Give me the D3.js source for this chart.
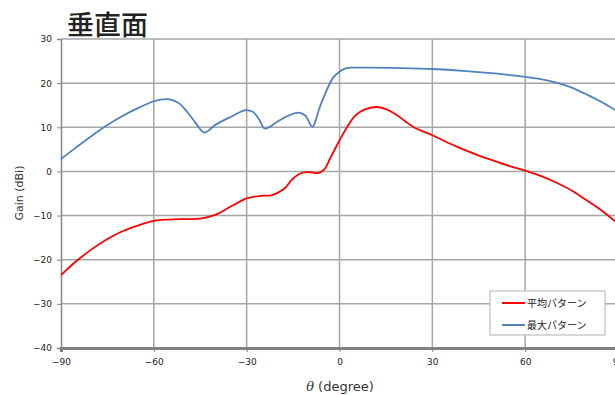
<!DOCTYPE html>
<html lang="ja">
<head>
    <meta charset="utf-8">
    <style type="text/css">
        body { margin: 0; background: #fff; }
        .tick text { font-family: "DejaVu Sans", Verdana, sans-serif; font-size: 9px; fill: #222; }
    </style>
</head>
<body>
    <svg width="615" height="395"></svg>
    <script src="https://d3js.org/d3.v7.min.js"></script>
    <script type="text/javascript">
        // 平均パターン (red)
        var avgTheta = [-90, -85, -80, -75, -70, -65, -60, -55, -50, -45, -40, -35, -30, -25, -22, -18, -15, -12, -9, -7, -5, -3, 0, 2, 5, 8, 12, 15, 18, 21, 24, 30, 35, 40, 45, 50, 55, 60, 65, 70, 75, 80, 85, 90];
        var avgGain = [-23.5, -20.3, -17.6, -15.3, -13.5, -12.2, -11.2, -10.9, -10.8, -10.7, -9.8, -7.9, -6.1, -5.5, -5.4, -4.0, -1.6, -0.3, -0.2, -0.4, 0.4, 3.0, 7.0, 9.5, 12.6, 14.0, 14.6, 14.1, 13.0, 11.5, 10.0, 8.2, 6.5, 5.0, 3.6, 2.4, 1.2, 0.2, -1.0, -2.5, -4.3, -6.6, -9.0, -11.8];
        // 最大パターン (blue)
        var maxTheta = [-90, -85, -80, -75, -70, -65, -60, -56, -52, -49, -46.5, -43.7, -40, -35, -30, -28, -26, -24.2, -20, -16, -13.4, -11, -8.7, -7.5, -6.7, -5, -2, 0, 3.5, 10, 20, 30, 40, 50, 60, 65, 70, 75, 80, 85, 90];
        var maxGain = [2.8, 5.5, 8.1, 10.5, 12.6, 14.4, 15.9, 16.4, 15.5, 13.3, 11.0, 8.8, 10.6, 12.4, 13.9, 13.5, 11.8, 9.7, 11.3, 12.8, 13.3, 12.6, 10.1, 12.0, 13.9, 17.0, 21.3, 22.6, 23.5, 23.5, 23.4, 23.2, 22.8, 22.2, 21.4, 20.9, 20.1, 19.0, 17.4, 15.6, 13.5];

        var xTicks = [-90, -60, -30, 0, 30, 60, 90];
        var yTicks = [-40, -30, -20, -10, 0, 10, 20, 30];
        var seriesNames = ["平均パターン", "最大パターン"];
        var seriesColors = ["#ff0000", "#4f81bd"];

        var svg = d3.select("svg");
        var plotLeft = 61, plotRight = 618, plotTop = 39, plotBottom = 348;

        var x = d3.scaleLinear().domain([-90, 90]).range([plotLeft, plotRight]);
        var y = d3.scaleLinear().domain([-40, 30]).range([plotBottom, plotTop]);

        // title
        svg.append("text")
            .attr("x", 67)
            .attr("y", 35)
            .attr("font-family", "'Noto Sans CJK JP', sans-serif")
            .attr("font-size", 27)
            .attr("font-weight", 500)
            .attr("fill", "#222")
            .text("垂直面");

        // grid
        svg.append("g")
            .selectAll("line")
            .data(yTicks.filter(function (d) { return d > -40; }))
            .enter().append("line")
            .attr("x1", plotLeft).attr("x2", plotRight)
            .attr("y1", function (d) { return y(d); })
            .attr("y2", function (d) { return y(d); })
            .attr("stroke", "#a6a6a6").attr("stroke-width", 1.5);

        svg.append("g")
            .selectAll("line")
            .data(xTicks.filter(function (d) { return d > -90; }))
            .enter().append("line")
            .attr("y1", plotTop).attr("y2", plotBottom)
            .attr("x1", function (d) { return x(d); })
            .attr("x2", function (d) { return x(d); })
            .attr("stroke", "#a6a6a6").attr("stroke-width", 1.5);

        // axes
        var yAxis = svg.append("g")
            .attr("transform", "translate(" + plotLeft + ",0)")
            .call(d3.axisLeft(y).tickValues(yTicks).tickSize(4).tickPadding(5));
        yAxis.select(".domain").attr("stroke", "#868686").attr("stroke-width", 1.5);
        yAxis.selectAll(".tick line").attr("stroke", "#868686");

        var xAxis = svg.append("g")
            .attr("transform", "translate(0," + plotBottom + ")")
            .call(d3.axisBottom(x).tickValues(xTicks).tickSize(4).tickPadding(7));
        xAxis.select(".domain").attr("stroke", "#808080").attr("stroke-width", 3);
        xAxis.selectAll(".tick line").attr("stroke", "#808080");

        // axis titles
        svg.append("text")
            .attr("transform", "translate(23,193) rotate(-90)")
            .attr("text-anchor", "middle")
            .attr("font-family", "'DejaVu Sans', sans-serif")
            .attr("font-size", 11)
            .attr("fill", "#333")
            .text("Gain (dBi)");

        var xt = svg.append("text")
            .attr("x", 340)
            .attr("y", 391)
            .attr("text-anchor", "middle")
            .attr("font-family", "'DejaVu Sans', sans-serif")
            .attr("font-size", 13)
            .attr("fill", "#333");
        xt.append("tspan").attr("font-style", "italic").attr("font-family", "'DejaVu Serif', serif").text("θ");
        xt.append("tspan").text(" (degree)");

        // lines
        var smoothLine = d3.line()
            .x(function (d) { return x(d[0]); })
            .y(function (d) { return y(d[1]); })
            .curve(d3.curveCatmullRom.alpha(0.5));
        var cuspLine = d3.line()
            .x(function (d) { return x(d[0]); })
            .y(function (d) { return y(d[1]); })
            .curve(d3.curveMonotoneX);

        var series = [
            { pts: d3.zip(avgTheta, avgGain), gen: smoothLine },
            { pts: d3.zip(maxTheta, maxGain), gen: cuspLine }
        ];

        svg.append("g")
            .selectAll("path")
            .data(series)
            .enter().append("path")
            .attr("d", function (d) { return d.gen(d.pts); })
            .attr("fill", "none")
            .attr("stroke", function (d, i) { return seriesColors[i]; })
            .attr("stroke-width", 1.8);

        // legend
        var legend = svg.append("g").attr("transform", "translate(490,291)");
        legend.append("rect")
            .attr("width", 115).attr("height", 44)
            .attr("fill", "#fff")
            .attr("stroke", "#bfbfbf").attr("stroke-width", 1.2);
        var item = legend.selectAll("g")
            .data(seriesNames)
            .enter().append("g")
            .attr("transform", function (d, i) { return "translate(0," + (12 + i * 22) + ")"; });
        item.append("line")
            .attr("x1", 12).attr("x2", 35)
            .attr("stroke", function (d, i) { return seriesColors[i]; })
            .attr("stroke-width", 2);
        item.append("text")
            .attr("x", 37).attr("y", 4)
            .attr("font-family", "'Noto Sans CJK JP', sans-serif")
            .attr("font-size", 10)
            .attr("fill", "#222")
            .text(function (d) { return d; });
    </script>
</body>
</html>
